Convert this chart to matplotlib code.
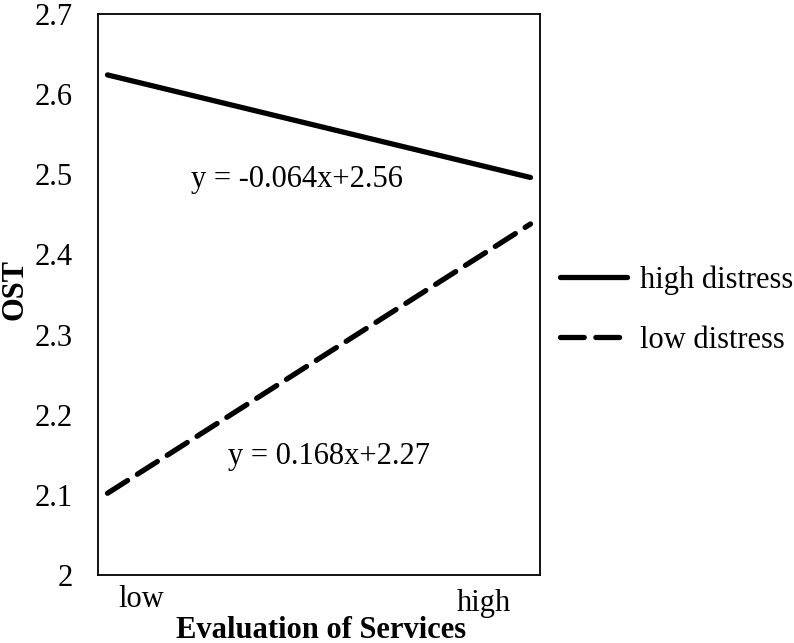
import matplotlib.pyplot as plt

# data
x_pos = [-1, 1]
high_distress = [2.624, 2.496]
low_distress = [2.102, 2.438]
x_labels = ['low', 'high']
x_label_pos = [-0.84, 0.78]
eq_high = 'y = -0.064x+2.56'
eq_low = 'y = 0.168x+2.27'
y_ticks = [2, 2.1, 2.2, 2.3, 2.4, 2.5, 2.6, 2.7]

plt.rcParams['font.family'] = ['Liberation Serif', 'DejaVu Serif']
fs = 22

fig = plt.figure(figsize=(7.94, 6.43), dpi=100)
ax = fig.add_axes([98 / 794, 1 - 575 / 643, 442 / 794, 561 / 643])

l1, = ax.plot(x_pos, high_distress, color='black', lw=3.8, solid_capstyle='round',
              label='high distress')
l2, = ax.plot(x_pos, low_distress, color='black', lw=3.8, ls=(0, (4.5, 2.2)),
              dash_capstyle='round', label='low distress')

ax.set_xlim(-1.045, 1.045)
ax.set_ylim(2, 2.7)
ax.set_yticks(y_ticks)
ax.set_yticklabels([f'{v:g}' for v in y_ticks], fontsize=fs)
ax.tick_params(axis='y', length=0, pad=18)
ax.set_xticks([])
for sp in ax.spines.values():
    sp.set_linewidth(1.3)

# category labels under the axis
for lab, xp, dy in zip(x_labels, x_label_pos, [-0.030, -0.036]):
    ax.text(xp, 2 + dy, lab, ha='center', va='center', fontsize=fs)

ax.text(-0.105, 2.494, eq_high, ha='center', va='center', fontsize=fs)
ax.text(0.045, 2.148, eq_low, ha='center', va='center', fontsize=fs)

fig.text(321 / 794, 1 - 630 / 643, 'Evaluation of Services', ha='center', va='center',
         fontsize=fs, fontweight='bold')
fig.text(15 / 794, 1 - 289 / 643, 'OST', ha='center', va='center', rotation=90,
         fontsize=fs, fontweight='bold')

fig.legend(handles=[l1, l2], loc='center left', bbox_to_anchor=(560 / 794, 1 - 310 / 643),
           frameon=False, fontsize=fs, handlelength=2.2, handletextpad=0.42,
           labelspacing=1.0, borderpad=0, borderaxespad=0)

fig.savefig('out.png', dpi=100)
